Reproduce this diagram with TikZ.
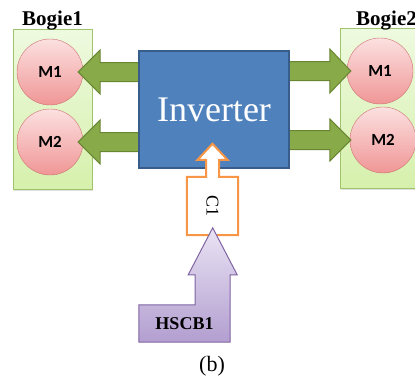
\documentclass[tikz,border=0pt]{standalone}
\usepackage{fontspec}
\setmainfont{Liberation Serif}
\newfontfamily\motorfont{Carlito}
\usepackage{tikz}
\usetikzlibrary{calc,shadows}
\definecolor{bogietop}{RGB}{238,250,224}
\definecolor{bogiebot}{RGB}{214,240,172}
\definecolor{bogieline}{RGB}{160,196,108}
\definecolor{motortop}{RGB}{252,224,224}
\definecolor{motorbot}{RGB}{240,150,150}
\definecolor{motorline}{RGB}{205,112,112}
\definecolor{feedgreen}{RGB}{137,170,72}
\definecolor{feedline}{RGB}{104,134,50}
\definecolor{invblue}{RGB}{79,129,189}
\definecolor{invline}{RGB}{56,93,138}
\definecolor{corange}{RGB}{247,150,70}
\definecolor{hscbtop}{RGB}{234,228,244}
\definecolor{hscbbot}{RGB}{178,158,208}
\definecolor{hscbline}{RGB}{128,100,162}

\begin{document}
\begin{tikzpicture}[x=1pt,y=-1pt]
	\useasboundingbox (0,0) rectangle (415,378);
	\clip (0,0) rectangle (415,378);
	\tikzstyle{bogie}=[rectangle,draw=bogieline,top color=bogietop,bottom color=bogiebot,minimum width=79pt,minimum height=160pt,inner sep=0pt,drop shadow={opacity=0.25,shadow xshift=1pt,shadow yshift=-2pt}]
	\tikzstyle{motor}=[circle,draw=motorline,top color=motortop,bottom color=motorbot,minimum size=66pt,inner sep=0pt,font=\motorfont\bfseries\fontsize{17}{17}\selectfont]
	\tikzstyle{feed}=[fill=feedgreen,draw=feedline,line width=1pt,line join=miter]
	\tikzstyle{bogiename}=[font=\bfseries\fontsize{21}{21}\selectfont,inner sep=0pt]
	% bogies and motors
	\node[bogie](b1) at (52.5,109) {};
	\node[bogie](b2) at (379.5,108) {};
	\node[bogiename,anchor=base](b1name) at (52.5,25) {Bogie1};
	\node[bogiename,anchor=base west](b2name) at (356,25) {Bogie2};
	\node[motor](l1) at (50,72) {M1};
	\node[motor](l2) at (50,142) {M2};
	\node[motor](r1) at (380,71) {M1};
	\node[motor](r2) at (383,140) {M2};
	\node[minimum width=150pt,minimum height=117pt,inner sep=0pt](inv) at (214,109.5) {};
	% feeding arrows
	\draw[feed] ($(inv.west |- l1.center)+(0,-9.5)$) -- ($(l1.east)+(17,-9.5)$) -- ($(l1.east)+(17,-22)$) -- ($(l1.east)+(-5,0)$) -- ($(l1.east)+(17,22)$) -- ($(l1.east)+(17,9.5)$) -- ($(inv.west |- l1.center)+(0,9.5)$) -- cycle;
	\draw[feed] ($(inv.west |- l2.center)+(0,-9.5)$) -- ($(l2.east)+(17,-9.5)$) -- ($(l2.east)+(17,-22)$) -- ($(l2.east)+(-5,0)$) -- ($(l2.east)+(17,22)$) -- ($(l2.east)+(17,9.5)$) -- ($(inv.west |- l2.center)+(0,9.5)$) -- cycle;
	\draw[feed] ($(inv.east |- r1.center)+(0,-9.5)$) -- ($(r1.west)+(-17,-9.5)$) -- ($(r1.west)+(-17,-22)$) -- ($(r1.west)+(4,0)$) -- ($(r1.west)+(-17,22)$) -- ($(r1.west)+(-17,9.5)$) -- ($(inv.east |- r1.center)+(0,9.5)$) -- cycle;
	\draw[feed] ($(inv.east |- r2.center)+(0,-9.5)$) -- ($(r2.west)+(-20,-9.5)$) -- ($(r2.west)+(-20,-21)$) -- ($(r2.west)+(1,0)$) -- ($(r2.west)+(-20,21)$) -- ($(r2.west)+(-20,9.5)$) -- ($(inv.east |- r2.center)+(0,9.5)$) -- cycle;
	\node[draw=invline,fill=invblue,line width=1.5pt,minimum width=150pt,minimum height=117pt,inner sep=0pt,text=white,font=\fontsize{36}{36}\selectfont](invtext) at (inv.center) {Inverter};
	% C1 and HSCB1
	\node[minimum width=51pt,minimum height=58pt,inner sep=0pt](c1) at (212.5,206) {};
	\draw[fill=white,draw=corange,line width=2pt,line join=miter] (c1.south west) -- (c1.north west) -- ($(c1.north)+(-6.5,0)$) -- ($(c1.north)+(-6.5,-17)$) -- ($(c1.north)+(-15,-17)$) -- ($(c1.north)+(0,-33)$) -- ($(c1.north)+(15,-17)$) -- ($(c1.north)+(6.5,-17)$) -- ($(c1.north)+(6.5,0)$) -- (c1.north east) -- (c1.south east) -- cycle;
	\node[rotate=-90,font=\fontsize{18}{18}\selectfont](c1label) at (c1.center) {C1};
	\node[minimum width=91pt,minimum height=37pt,inner sep=0pt](hscb) at (184.5,323.5) {};
	\draw[top color=hscbtop,bottom color=hscbbot,draw=hscbline,line width=1pt,line join=miter] (hscb.south west) -- (hscb.north west) -- ($(hscb.north east)+(-35,0)$) -- ($(hscb.north east)+(-35,-30)$) -- ($(hscb.north east)+(-42,-30)$) -- ($(hscb.north east)+(-17.5,-77)$) -- ($(hscb.north east)+(7,-30)$) -- ($(hscb.north east)+(0,-30)$) -- (hscb.south east) -- cycle;
	\node[font=\bfseries\fontsize{18}{18}\selectfont](hscblabel) at (hscb.center) {HSCB1};
	\node[font=\fontsize{22}{22}\selectfont](cap) at (212,366) {(b)};
\end{tikzpicture}
\end{document}
